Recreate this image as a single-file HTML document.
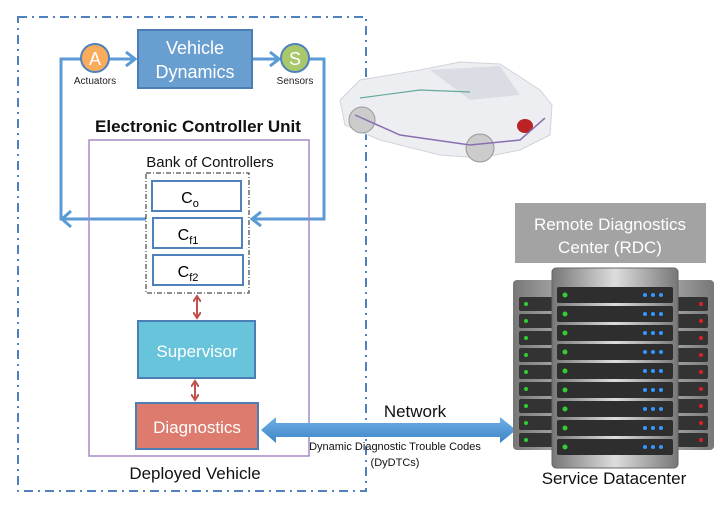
<!DOCTYPE html>
<html><head><meta charset="utf-8"><style>
body{margin:0;background:#fff}
svg{display:block}
text{font-family:"Liberation Sans","DejaVu Sans",sans-serif}
</style></head><body>
<svg width="725" height="506" viewBox="0 0 725 506" xmlns="http://www.w3.org/2000/svg">
<defs>
<marker id="ah" markerWidth="12" markerHeight="16" refX="10" refY="8" orient="auto" markerUnits="userSpaceOnUse"><path d="M1,1 L10,8 L1,15" fill="none" stroke="#5b9bd5" stroke-width="3"/></marker>
<marker id="rh" markerWidth="8" markerHeight="8" refX="6" refY="4" orient="auto-start-reverse" markerUnits="userSpaceOnUse"><path d="M0,0 L6,4 L0,8" fill="none" stroke="#c0504d" stroke-width="2"/></marker>
<linearGradient id="rack" x1="0" x2="1"><stop offset="0" stop-color="#777"/><stop offset="0.5" stop-color="#ddd"/><stop offset="1" stop-color="#777"/></linearGradient>
<linearGradient id="net" x1="0" y1="0" x2="0" y2="1"><stop offset="0" stop-color="#6fb0e6"/><stop offset="1" stop-color="#3d85c6"/></linearGradient>
</defs>
<rect x="18" y="17" width="348" height="474" fill="none" stroke="#4f81bd" stroke-width="2" stroke-dasharray="9,5,2,5"/>
<g>
<path d="M340,100 L360,80 L420,70 L460,62 L500,64 L540,90 L552,105 L550,135 L520,150 L480,158 L440,155 L380,140 L345,125 Z" fill="#eceef1" stroke="#d0d4da"/>
<path d="M430,70 L500,66 L520,95 L470,100 Z" fill="#dadee4"/>
<circle cx="362" cy="120" r="13" fill="#ccc" stroke="#999"/>
<circle cx="480" cy="148" r="14" fill="#ccc" stroke="#999"/>
<ellipse cx="525" cy="126" rx="8" ry="7" fill="#b22"/>
<path d="M355,115 L400,135 L470,145 L520,140 L545,118" fill="none" stroke="#8a6fb0" stroke-width="1.5"/>
<path d="M360,98 L420,90 L470,92" fill="none" stroke="#6a9" stroke-width="1.2"/>
</g>
<path d="M146,219 L61,219 L61,59 L81,59" fill="none" stroke="#5b9bd5" stroke-width="3"/>
<path d="M109,59 L135,59" stroke="#5b9bd5" stroke-width="3" marker-end="url(#ah)"/>
<path d="M252,59 L279,59" stroke="#5b9bd5" stroke-width="3" marker-end="url(#ah)"/>
<path d="M309,59 L324,59 L324,219 L252,219" fill="none" stroke="#5b9bd5" stroke-width="3" marker-end="url(#ah)"/>
<path d="M71,211 L62,219 L71,227" fill="none" stroke="#5b9bd5" stroke-width="3"/>
<circle cx="95" cy="58" r="14" fill="#f9ac5c" stroke="#4f81bd" stroke-width="2"/>
<text x="95" y="65" font-size="18" fill="#fff" text-anchor="middle">A</text>
<text x="95" y="84" font-size="10" fill="#222" text-anchor="middle">Actuators</text>
<rect x="138" y="30" width="114" height="58" fill="#699fd0" stroke="#4a7eb5" stroke-width="2"/>
<text x="195" y="54" font-size="18" fill="#fff" text-anchor="middle">Vehicle</text>
<text x="195" y="78" font-size="18" fill="#fff" text-anchor="middle">Dynamics</text>
<circle cx="295" cy="58" r="14" fill="#a9c86a" stroke="#4f81bd" stroke-width="2"/>
<text x="295" y="65" font-size="18" fill="#fff" text-anchor="middle">S</text>
<text x="295" y="84" font-size="10" fill="#222" text-anchor="middle">Sensors</text>
<text x="198" y="132" font-size="17" font-weight="bold" fill="#111" text-anchor="middle">Electronic Controller Unit</text>
<rect x="89" y="140" width="220" height="316" fill="none" stroke="#a58bc4" stroke-width="1.5"/>
<text x="210" y="167" font-size="15" fill="#111" text-anchor="middle">Bank of Controllers</text>
<rect x="146" y="173" width="103" height="120" fill="none" stroke="#222" stroke-width="1" stroke-dasharray="5,2,1,2"/>
<rect x="152" y="181" width="89" height="30" fill="#fff" stroke="#4f81bd" stroke-width="2"/>
<text x="190" y="203" font-size="16" text-anchor="middle">C<tspan font-size="11" dy="4">o</tspan></text>
<rect x="153" y="218" width="89" height="30" fill="#fff" stroke="#4f81bd" stroke-width="2"/>
<text x="188" y="240" font-size="16" text-anchor="middle">C<tspan font-size="11" dy="4">f1</tspan></text>
<rect x="153" y="255" width="90" height="30" fill="#fff" stroke="#4f81bd" stroke-width="2"/>
<text x="188" y="277" font-size="16" text-anchor="middle">C<tspan font-size="11" dy="4">f2</tspan></text>
<path d="M197,296 L197,318" stroke="#c0504d" stroke-width="2" marker-start="url(#rh)" marker-end="url(#rh)"/>
<rect x="138" y="321" width="117" height="57" fill="#68c4da" stroke="#4a7eb5" stroke-width="2"/>
<text x="197" y="357" font-size="17" fill="#fff" text-anchor="middle">Supervisor</text>
<path d="M195,381 L195,400" stroke="#c0504d" stroke-width="2" marker-start="url(#rh)" marker-end="url(#rh)"/>
<rect x="136" y="403" width="122" height="46" fill="#dc7b6e" stroke="#4a7eb5" stroke-width="2"/>
<text x="197" y="433" font-size="17" fill="#fff" text-anchor="middle">Diagnostics</text>
<text x="195" y="479" font-size="17" fill="#111" text-anchor="middle">Deployed Vehicle</text>
<path d="M261,430 L276,417 L276,423 L500,423 L500,417 L516,430 L500,443 L500,437 L276,437 L276,443 Z" fill="url(#net)"/>
<text x="415" y="417" font-size="17" fill="#111" text-anchor="middle">Network</text>
<text x="395" y="450" font-size="11" fill="#111" text-anchor="middle">Dynamic Diagnostic Trouble Codes</text>
<text x="395" y="466" font-size="11" fill="#111" text-anchor="middle">(DyDTCs)</text>
<rect x="515" y="203" width="191" height="60" fill="#a3a3a3"/>
<text x="610" y="230" font-size="17" fill="#fff" text-anchor="middle">Remote Diagnostics</text>
<text x="610" y="253" font-size="17" fill="#fff" text-anchor="middle">Center (RDC)</text>
<rect x="513" y="280" width="201" height="170" rx="4" fill="url(#rack)"/>
<g fill="#333">
<rect x="519" y="297" width="189" height="14" rx="2"/><rect x="519" y="314" width="189" height="14" rx="2"/><rect x="519" y="331" width="189" height="14" rx="2"/><rect x="519" y="348" width="189" height="14" rx="2"/><rect x="519" y="365" width="189" height="14" rx="2"/><rect x="519" y="382" width="189" height="14" rx="2"/><rect x="519" y="399" width="189" height="14" rx="2"/><rect x="519" y="416" width="189" height="14" rx="2"/><rect x="519" y="433" width="189" height="14" rx="2"/>
</g>
<g fill="#3c3">
<circle cx="526" cy="304" r="2"/><circle cx="526" cy="321" r="2"/><circle cx="526" cy="338" r="2"/><circle cx="526" cy="355" r="2"/><circle cx="526" cy="372" r="2"/><circle cx="526" cy="389" r="2"/><circle cx="526" cy="406" r="2"/><circle cx="526" cy="423" r="2"/><circle cx="526" cy="440" r="2"/>
</g>
<g fill="#d22">
<circle cx="701" cy="304" r="2"/><circle cx="701" cy="321" r="2"/><circle cx="701" cy="338" r="2"/><circle cx="701" cy="355" r="2"/><circle cx="701" cy="372" r="2"/><circle cx="701" cy="389" r="2"/><circle cx="701" cy="406" r="2"/><circle cx="701" cy="423" r="2"/><circle cx="701" cy="440" r="2"/>
</g>
<rect x="552" y="268" width="126" height="200" rx="4" fill="url(#rack)" stroke="#666"/>
<g fill="#2e2e2e">
<rect x="557" y="287" width="116" height="16" rx="2"/><rect x="557" y="306" width="116" height="16" rx="2"/><rect x="557" y="325" width="116" height="16" rx="2"/><rect x="557" y="344" width="116" height="16" rx="2"/><rect x="557" y="363" width="116" height="16" rx="2"/><rect x="557" y="382" width="116" height="16" rx="2"/><rect x="557" y="401" width="116" height="16" rx="2"/><rect x="557" y="420" width="116" height="16" rx="2"/><rect x="557" y="439" width="116" height="16" rx="2"/>
</g>
<g fill="#3c3">
<circle cx="565" cy="295" r="2.5"/><circle cx="565" cy="314" r="2.5"/><circle cx="565" cy="333" r="2.5"/><circle cx="565" cy="352" r="2.5"/><circle cx="565" cy="371" r="2.5"/><circle cx="565" cy="390" r="2.5"/><circle cx="565" cy="409" r="2.5"/><circle cx="565" cy="428" r="2.5"/><circle cx="565" cy="447" r="2.5"/>
</g>
<g fill="#39f">
<circle cx="645" cy="295" r="2"/><circle cx="653" cy="295" r="2"/><circle cx="661" cy="295" r="2"/>
<circle cx="645" cy="314" r="2"/><circle cx="653" cy="314" r="2"/><circle cx="661" cy="314" r="2"/>
<circle cx="645" cy="333" r="2"/><circle cx="653" cy="333" r="2"/><circle cx="661" cy="333" r="2"/>
<circle cx="645" cy="352" r="2"/><circle cx="653" cy="352" r="2"/><circle cx="661" cy="352" r="2"/>
<circle cx="645" cy="371" r="2"/><circle cx="653" cy="371" r="2"/><circle cx="661" cy="371" r="2"/>
<circle cx="645" cy="390" r="2"/><circle cx="653" cy="390" r="2"/><circle cx="661" cy="390" r="2"/>
<circle cx="645" cy="409" r="2"/><circle cx="653" cy="409" r="2"/><circle cx="661" cy="409" r="2"/>
<circle cx="645" cy="428" r="2"/><circle cx="653" cy="428" r="2"/><circle cx="661" cy="428" r="2"/>
<circle cx="645" cy="447" r="2"/><circle cx="653" cy="447" r="2"/><circle cx="661" cy="447" r="2"/>
</g>
<text x="614" y="484" font-size="17" fill="#111" text-anchor="middle">Service Datacenter</text>
</svg>
</body></html>
